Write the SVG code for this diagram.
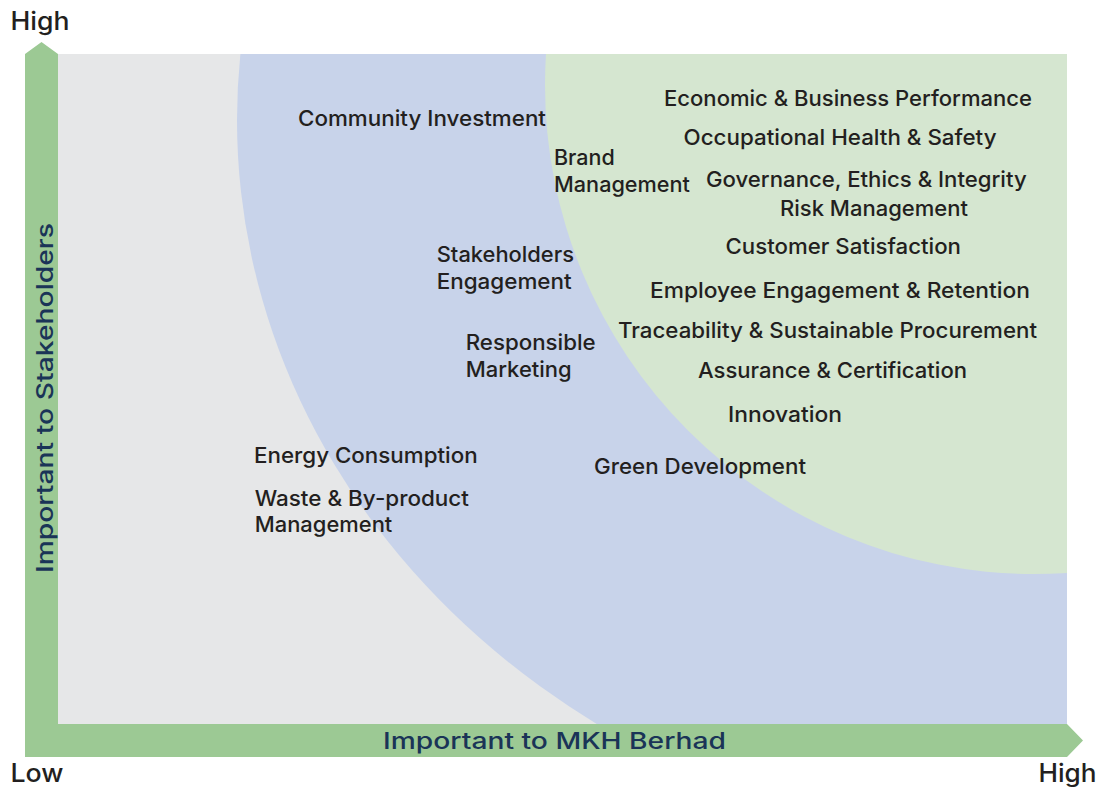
<svg xmlns="http://www.w3.org/2000/svg" width="1103" height="787" viewBox="0 0 1103 787">
  <defs>
    <clipPath id="chartClip">
      <rect x="58" y="54" width="1009" height="670"/>
    </clipPath>
    <style>
      .lbl { font-family: Inter, "Noto Sans", "Liberation Sans", sans-serif; font-size: 21.5px; fill: #231f20; font-weight: 500; }
      .axis { font-family: Inter, "Noto Sans", "Liberation Sans", sans-serif; font-size: 23px; fill: #1a3457; font-weight: 500; }
      .end { font-family: Inter, "Noto Sans", "Liberation Sans", sans-serif; font-size: 25px; fill: #231f20; font-weight: 500; }
    </style>
  </defs>
  <rect width="1103" height="787" fill="#ffffff"/>

  <g id="zones" clip-path="url(#chartClip)">
    <rect x="58" y="54" width="1009" height="670" fill="#e6e7e8"/>
    <ellipse cx="1067" cy="120" rx="830" ry="733" fill="#c8d3ea"/>
    <circle cx="1034" cy="85" r="489" fill="#d5e6d0"/>
  </g>

  <g id="axes">
    <polygon points="25,54 41.5,42 58,54 58,724 1067,724 1083,740.5 1067,757 25,757" fill="#9cc994"/>
    <text class="axis" x="383" y="748.5" textLength="343" lengthAdjust="spacingAndGlyphs">Important to MKH Berhad</text>
    <text class="axis" transform="translate(52.5,573) rotate(-90)" x="0" y="0" textLength="350" lengthAdjust="spacingAndGlyphs">Important to Stakeholders</text>
    <text class="end" x="10.5" y="29.5" textLength="59" lengthAdjust="spacingAndGlyphs">High</text>
    <text class="end" x="10.5" y="781.5" textLength="53" lengthAdjust="spacingAndGlyphs">Low</text>
    <text class="end" x="1038.5" y="781.5" textLength="58" lengthAdjust="spacingAndGlyphs">High</text>
  </g>

  <g id="node-community-investment"><text class="lbl" x="298" y="126" textLength="248" lengthAdjust="spacingAndGlyphs">Community Investment</text></g>
  <g id="node-brand-management">
    <text class="lbl" x="554" y="165">Brand</text>
    <text class="lbl" x="554" y="192.3" textLength="136" lengthAdjust="spacingAndGlyphs">Management</text>
  </g>
  <g id="node-economic"><text class="lbl" x="664" y="106" textLength="368" lengthAdjust="spacingAndGlyphs">Economic &amp; Business Performance</text></g>
  <g id="node-ohs"><text class="lbl" x="683.5" y="145" textLength="313" lengthAdjust="spacingAndGlyphs">Occupational Health &amp; Safety</text></g>
  <g id="node-governance"><text class="lbl" x="706" y="186.7" textLength="320.7" lengthAdjust="spacingAndGlyphs">Governance, Ethics &amp; Integrity</text></g>
  <g id="node-risk"><text class="lbl" x="780" y="215.5" textLength="188" lengthAdjust="spacingAndGlyphs">Risk Management</text></g>
  <g id="node-customer"><text class="lbl" x="725.5" y="253.5" textLength="235.5" lengthAdjust="spacingAndGlyphs">Customer Satisfaction</text></g>
  <g id="node-employee"><text class="lbl" x="650" y="297.5" textLength="380" lengthAdjust="spacingAndGlyphs">Employee Engagement &amp; Retention</text></g>
  <g id="node-traceability"><text class="lbl" x="618" y="337.5" textLength="419" lengthAdjust="spacingAndGlyphs">Traceability &amp; Sustainable Procurement</text></g>
  <g id="node-assurance"><text class="lbl" x="698" y="377.5" textLength="269" lengthAdjust="spacingAndGlyphs">Assurance &amp; Certification</text></g>
  <g id="node-innovation"><text class="lbl" x="728" y="421.5" textLength="114" lengthAdjust="spacingAndGlyphs">Innovation</text></g>
  <g id="node-green"><text class="lbl" x="594" y="473.5" textLength="212" lengthAdjust="spacingAndGlyphs">Green Development</text></g>
  <g id="node-stakeholders">
    <text class="lbl" x="436.7" y="262.3" textLength="137.3" lengthAdjust="spacingAndGlyphs">Stakeholders</text>
    <text class="lbl" x="436.7" y="289" textLength="135" lengthAdjust="spacingAndGlyphs">Engagement</text>
  </g>
  <g id="node-responsible">
    <text class="lbl" x="465.7" y="350" textLength="130" lengthAdjust="spacingAndGlyphs">Responsible</text>
    <text class="lbl" x="465.7" y="376.7" textLength="106" lengthAdjust="spacingAndGlyphs">Marketing</text>
  </g>
  <g id="node-energy"><text class="lbl" x="254" y="463.3" textLength="223.7" lengthAdjust="spacingAndGlyphs">Energy Consumption</text></g>
  <g id="node-waste">
    <text class="lbl" x="254.7" y="506" textLength="214.3" lengthAdjust="spacingAndGlyphs">Waste &amp; By-product</text>
    <text class="lbl" x="254.7" y="531.7" textLength="137.6" lengthAdjust="spacingAndGlyphs">Management</text>
  </g>
  <g id="connectors"/>
</svg>
